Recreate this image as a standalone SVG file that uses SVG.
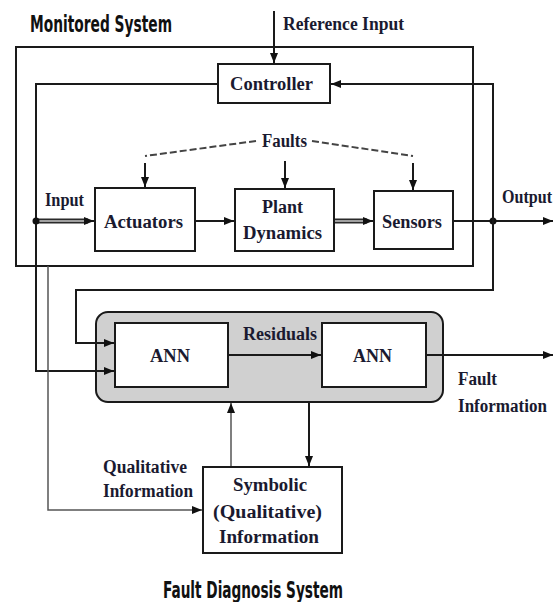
<svg xmlns="http://www.w3.org/2000/svg" width="559" height="602" viewBox="0 0 559 602">
<defs>
<marker id="ah" markerUnits="userSpaceOnUse" markerWidth="10" markerHeight="8" refX="10" refY="4" orient="auto">
<path d="M0,0 L10,4 L0,8 z" fill="#111"/>
</marker>
<style>
.box{fill:#fff;stroke:#1a1a1a;stroke-width:2}
.t{font-family:"Liberation Serif","Times New Roman",serif;font-weight:bold;font-size:18.5px;fill:#1a1a30}
.title{font-family:"DejaVu Sans Condensed","Liberation Sans",sans-serif;font-weight:bold;font-size:23px;fill:#111}
.c{fill:none;stroke:#1a1a1a;stroke-width:2}
.thin{fill:none;stroke:#555;stroke-width:1.5}
.thickO{fill:none;stroke:#2a2a2a;stroke-width:5}
.thickI{fill:none;stroke:#a0a0a0;stroke-width:2}
.dash{fill:none;stroke:#444;stroke-width:2;stroke-dasharray:7 3}
</style>
</defs>
<rect width="559" height="602" fill="#fff"/>

<g id="monitored-system">
<rect x="16" y="47" width="457" height="219" fill="none" stroke="#1a1a1a" stroke-width="2"/>
<text class="title" x="30" y="32" textLength="142" lengthAdjust="spacingAndGlyphs">Monitored System</text>
</g>

<g id="fault-diagnosis-system">
<rect x="96" y="312" width="347" height="90" rx="12" ry="12" fill="#d0d0d0" stroke="#1a1a1a" stroke-width="2"/>
<text class="title" x="163" y="598" textLength="180" lengthAdjust="spacingAndGlyphs">Fault Diagnosis System</text>
</g>

<g id="connectors">
<path class="c" d="M274,11 V63" marker-end="url(#ah)"/>
<path class="c" d="M218,84 H36 V371 H114" marker-end="url(#ah)"/>
<path class="thickO" d="M36,221 H88"/>
<path class="thickI" d="M36,221 H88"/>
<path class="c" d="M86,221 H94" marker-end="url(#ah)"/>
<circle cx="36" cy="221" r="3.5" fill="#111"/>
<path class="c" d="M195,221 H234" marker-end="url(#ah)"/>
<path class="thickO" d="M334,221 H367"/>
<path class="thickI" d="M334,221 H367"/>
<path class="c" d="M365,221 H373" marker-end="url(#ah)"/>
<path class="c" d="M453,221 H553" marker-end="url(#ah)"/>
<circle cx="493" cy="221" r="3.5" fill="#111"/>
<path class="c" d="M493,221 V84 H331" marker-end="url(#ah)"/>
<path class="c" d="M493,221 V290 H76 V343 H114" marker-end="url(#ah)"/>
<path class="thin" d="M48,266 V510 H202" marker-end="url(#ah)"/>
<path class="dash" d="M256,141 L145,156"/>
<path class="dash" d="M312,141 L413,156"/>
<path class="c" d="M145,163 V187" marker-end="url(#ah)"/>
<path class="c" d="M285,161 V188" marker-end="url(#ah)"/>
<path class="c" d="M413,163 V190" marker-end="url(#ah)"/>
<path class="c" d="M228,355 H321" marker-end="url(#ah)"/>
<path class="c" d="M426,355 H553" marker-end="url(#ah)"/>
<path class="c" d="M309,402 V466" marker-end="url(#ah)"/>
<path class="thin" d="M231,467 V403" marker-end="url(#ah)"/>
</g>

<g id="controller">
<rect class="box" x="218" y="64" width="112" height="39"/>
<text class="t" x="230" y="90" textLength="83" lengthAdjust="spacingAndGlyphs">Controller</text>
</g>

<g id="actuators">
<rect class="box" x="95" y="188" width="100" height="63"/>
<text class="t" x="104" y="228" textLength="79" lengthAdjust="spacingAndGlyphs">Actuators</text>
</g>

<g id="plant-dynamics">
<rect class="box" x="235" y="189" width="99" height="62"/>
<text class="t" x="262" y="213" textLength="41" lengthAdjust="spacingAndGlyphs">Plant</text>
<text class="t" x="243" y="239" textLength="79" lengthAdjust="spacingAndGlyphs">Dynamics</text>
</g>

<g id="sensors">
<rect class="box" x="374" y="191" width="79" height="58"/>
<text class="t" x="382" y="228" textLength="60" lengthAdjust="spacingAndGlyphs">Sensors</text>
</g>

<g id="ann-1">
<rect class="box" x="115" y="323" width="113" height="64"/>
<text class="t" x="150" y="362" textLength="40" lengthAdjust="spacingAndGlyphs">ANN</text>
</g>

<g id="ann-2">
<rect class="box" x="322" y="323" width="104" height="64"/>
<text class="t" x="353" y="362" textLength="39" lengthAdjust="spacingAndGlyphs">ANN</text>
</g>

<g id="symbolic">
<rect class="box" x="203" y="467" width="139" height="86"/>
<text class="t" x="233" y="491" textLength="74" lengthAdjust="spacingAndGlyphs">Symbolic</text>
<text class="t" x="213" y="518" textLength="109" lengthAdjust="spacingAndGlyphs">(Qualitative)</text>
<text class="t" x="219" y="543" textLength="100" lengthAdjust="spacingAndGlyphs">Information</text>
</g>

<g id="labels">
<text class="t" x="283" y="30" textLength="121" lengthAdjust="spacingAndGlyphs">Reference Input</text>
<text class="t" x="262" y="147" textLength="45" lengthAdjust="spacingAndGlyphs">Faults</text>
<text class="t" x="45" y="206" textLength="39" lengthAdjust="spacingAndGlyphs">Input</text>
<text class="t" x="502" y="203" textLength="50" lengthAdjust="spacingAndGlyphs">Output</text>
<text class="t" x="243" y="340" textLength="74" lengthAdjust="spacingAndGlyphs">Residuals</text>
<text class="t" x="458" y="385" textLength="39" lengthAdjust="spacingAndGlyphs">Fault</text>
<text class="t" x="458" y="412" textLength="89" lengthAdjust="spacingAndGlyphs">Information</text>
<text class="t" x="103" y="473" textLength="84" lengthAdjust="spacingAndGlyphs">Qualitative</text>
<text class="t" x="103" y="497" textLength="90" lengthAdjust="spacingAndGlyphs">Information</text>
</g>
</svg>
